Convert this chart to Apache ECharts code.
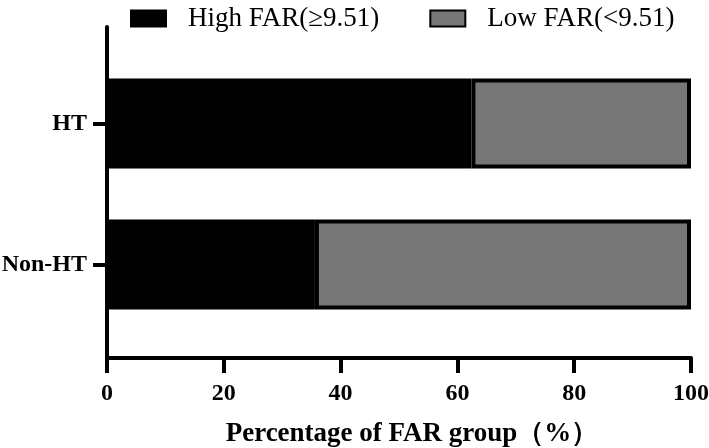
<!DOCTYPE html>
<html>
<head>
<meta charset="utf-8">
<script src="https://cdn.jsdelivr.net/npm/echarts@6/dist/echarts.min.js"></script>
<style>
  html, body { margin: 0; padding: 0; background: #fff; }
  #chart { width: 709px; height: 448px; }
</style>
</head>
<body>
<div id="chart"></div>
<script>
// categories bottom -> top (category y axis starts at the bottom)
var groups = ["Non-HT", "HT"];
var highFar = [35.6, 62.4];
var lowFar = [64.4, 37.6];
var seriesNames = ["High FAR(≥9.51)", "Low FAR(<9.51)"];
var xTicks = { min: 0, max: 100, interval: 20 };

var serif = "'Liberation Serif', 'Times New Roman', serif";

var myChart = echarts.init(document.getElementById("chart"));

var option = {
  animation: false,
  backgroundColor: "#fff",
  legend: {
    top: 0,
    left: 125,
    icon: "rect",
    itemWidth: 35,
    itemHeight: 16,
    itemGap: 50,
    textStyle: { fontFamily: serif, fontSize: 27, color: "#000", padding: [0, 0, 0, 17] },
    data: seriesNames
  },
  grid: [
    // outer frame: axis lines, x ticks and labels
    { left: 107, right: 18, top: 27, bottom: 90, outerBoundsMode: "none" },
    // inner area where the category bands sit
    { left: 107, right: 18, top: 53, bottom: 113, outerBoundsMode: "none" }
  ],
  xAxis: [
    {
      gridIndex: 0,
      type: "value",
      min: xTicks.min,
      max: xTicks.max,
      interval: xTicks.interval,
      splitLine: { show: false },
      axisLine: { show: true, lineStyle: { color: "#000", width: 4 } },
      axisTick: { show: true, length: 15, lineStyle: { color: "#000", width: 4 } },
      axisLabel: {
        margin: 24,
        fontFamily: serif,
        fontWeight: "bold",
        fontSize: 24,
        color: "#000"
      },
      name: "Percentage of FAR group（%）",
      nameLocation: "middle",
      nameGap: 63,
      nameTextStyle: {
        fontFamily: serif,
        fontWeight: "bold",
        fontSize: 27,
        color: "#000",
        padding: [0, 0, 0, 26]
      }
    },
    {
      gridIndex: 1,
      type: "value",
      min: xTicks.min,
      max: xTicks.max,
      show: false
    }
  ],
  yAxis: [
    {
      gridIndex: 0,
      type: "value",
      min: 0,
      max: 1,
      splitLine: { show: false },
      axisTick: { show: false },
      axisLabel: { show: false },
      axisLine: { show: true, lineStyle: { color: "#000", width: 4 } }
    },
    {
      gridIndex: 1,
      type: "category",
      data: groups,
      axisLine: { show: false },
      axisTick: { show: true, length: 14, alignWithLabel: true, lineStyle: { color: "#000", width: 4 } },
      axisLabel: {
        margin: 20,
        fontFamily: serif,
        fontWeight: "bold",
        fontSize: 24,
        color: "#000"
      }
    }
  ],
  series: [
    {
      name: seriesNames[0],
      type: "bar",
      stack: "far",
      xAxisIndex: 1,
      yAxisIndex: 1,
      barWidth: 90,
      data: highFar,
      itemStyle: { color: "#000", borderColor: "#000", borderWidth: 4 }
    },
    {
      name: seriesNames[1],
      type: "bar",
      stack: "far",
      xAxisIndex: 1,
      yAxisIndex: 1,
      barWidth: 90,
      data: lowFar,
      itemStyle: { color: "#767676", borderColor: "#000", borderWidth: 4 }
    }
  ]
};

myChart.setOption(option);
</script>
</body>
</html>
